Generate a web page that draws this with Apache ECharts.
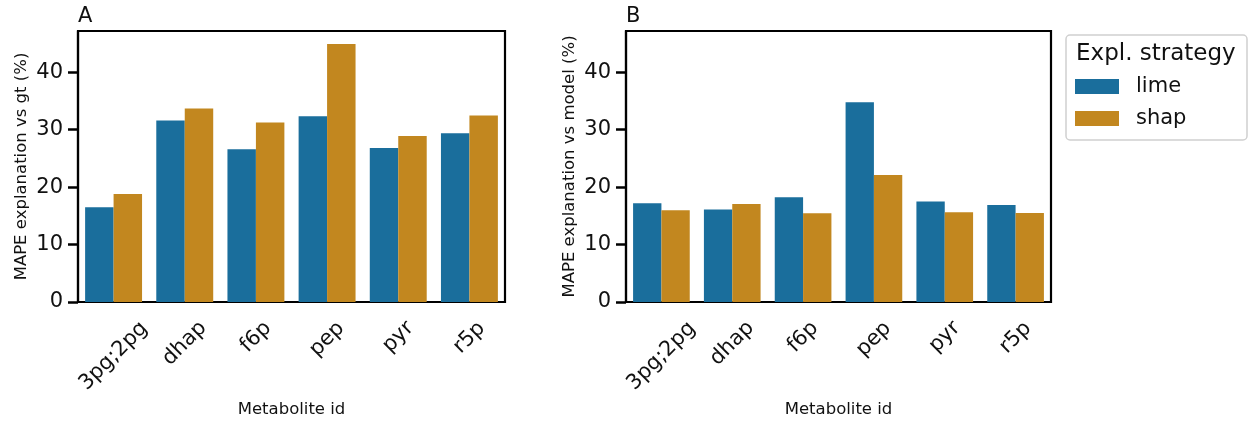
<!DOCTYPE html>
<html>
<head>
<meta charset="utf-8">
<script src="https://cdn.jsdelivr.net/npm/echarts@6/dist/echarts.min.js"></script>
<style>
html,body{margin:0;padding:0;background:#fff;}
#chart{width:1249px;height:421px;}
</style>
</head>
<body>
<div id="chart"></div>
<script>
const categories = ['3pg;2pg', 'dhap', 'f6p', 'pep', 'pyr', 'r5p'];
const seriesNames = ['lime', 'shap'];
const limeVsGt = [16.5, 31.6, 26.6, 32.35, 26.8, 29.4];
const shapVsGt = [18.8, 33.7, 31.25, 44.95, 28.9, 32.5];
const limeVsModel = [17.2, 16.1, 18.25, 34.8, 17.5, 16.9];
const shapVsModel = [16.0, 17.05, 15.45, 22.1, 15.65, 15.5];
const yTicks = [0, 10, 20, 30, 40];
const panelTitles = ['A', 'B'];
const yNames = ['MAPE explanation vs gt (%)', 'MAPE explanation vs model (%)'];
const xName = 'Metabolite id';
const legendTitle = 'Expl. strategy';

const FONT = '"DejaVu Sans", sans-serif';
const TXT = '#111';
const colors = ['#1a6e9c', '#c2871f'];
const yMax = Math.max(...limeVsGt, ...shapVsGt, ...limeVsModel, ...shapVsModel) * 1.05;

// measure label widths so rotated labels are centred under ticks (matplotlib style)
const cnv = document.createElement('canvas').getContext('2d');
cnv.font = '21px "DejaVu Sans"';
const rich = {};
categories.forEach((c, k) => {
  const p = Math.round(0.5 * cnv.measureText(c).width);
  rich['c' + k] = { fontSize: 21, color: TXT, fontFamily: FONT, padding: [p, p, 0, 0] };
});

const grids = [
  { left: 78, top: 31, width: 427, height: 271 },
  { left: 626, top: 31, width: 425, height: 271 }
].map(g => Object.assign(g, { show: true, borderColor: '#000', borderWidth: 2.2, backgroundColor: 'transparent',
                              containLabel: false, outerBoundsMode: 'none' }));

function xAxis(i) {
  return {
    type: 'category', gridIndex: i, data: categories,
    name: xName, nameLocation: 'middle', nameGap: 95,
    nameTextStyle: { fontSize: 16.5, color: TXT, fontFamily: FONT },
    axisLine: { lineStyle: { color: '#000', width: 2.2 } },
    axisTick: { alignWithLabel: true, length: 10, lineStyle: { color: '#000', width: 2.5 } },
    axisLabel: { interval: 0, rotate: 45, align: 'center', verticalAlign: 'middle', margin: 23,
                 fontSize: 21, color: TXT, fontFamily: FONT, hideOverlap: false,
                 formatter: (v) => '{c' + categories.indexOf(v) + '|' + v + '}', rich: rich },
    splitLine: { show: false }
  };
}
function yAxis(i) {
  return {
    type: 'value', gridIndex: i, min: 0, max: yMax,
    name: yNames[i], nameLocation: 'middle', nameGap: 48,
    nameTextStyle: { fontSize: 16.5, color: TXT, fontFamily: FONT },
    axisLine: { show: true, lineStyle: { color: '#000', width: 2.2 } },
    axisTick: { show: true, length: 10, customValues: yTicks, lineStyle: { color: '#000', width: 2.5 } },
    axisLabel: { customValues: yTicks, margin: 15, fontSize: 21, color: TXT, fontFamily: FONT },
    splitLine: { show: false }
  };
}
function bar(name, data, i, c) {
  return { type: 'bar', name: name, data: data, xAxisIndex: i, yAxisIndex: i,
           barGap: '0%', barCategoryGap: '20%', itemStyle: { color: c }, animation: false };
}

const chart = echarts.init(document.getElementById('chart'));
chart.setOption({
  animation: false,
  textStyle: { fontFamily: FONT },
  title: [
    { text: panelTitles[0], left: 78, top: 6, padding: 0, textStyle: { fontSize: 21, fontWeight: 'normal', color: TXT, fontFamily: FONT } },
    { text: panelTitles[1], left: 626, top: 6, padding: 0, textStyle: { fontSize: 21, fontWeight: 'normal', color: TXT, fontFamily: FONT } }
  ],
  grid: grids,
  xAxis: [xAxis(0), xAxis(1)],
  yAxis: [yAxis(0), yAxis(1)],
  legend: {
    data: seriesNames, orient: 'vertical', left: 1075, top: 76, padding: 0,
    icon: 'rect', itemWidth: 44, itemHeight: 15, itemGap: 11,
    textStyle: { fontSize: 21, color: TXT, fontFamily: FONT, padding: [0, 0, 0, 12] }
  },
  graphic: [
    { type: 'rect', shape: { x: 1066, y: 35, width: 181, height: 105, r: 4 },
      style: { fill: '#fff', stroke: '#d0d0d0', lineWidth: 1.5 }, z: -1 },
    { type: 'text', x: 1076, y: 54, style: { text: legendTitle, fontSize: 23, fill: TXT, fontFamily: FONT, textVerticalAlign: 'middle' } }
  ],
  series: [
    bar(seriesNames[0], limeVsGt, 0, colors[0]),
    bar(seriesNames[1], shapVsGt, 0, colors[1]),
    bar(seriesNames[0], limeVsModel, 1, colors[0]),
    bar(seriesNames[1], shapVsModel, 1, colors[1])
  ]
});
</script>
</body>
</html>
